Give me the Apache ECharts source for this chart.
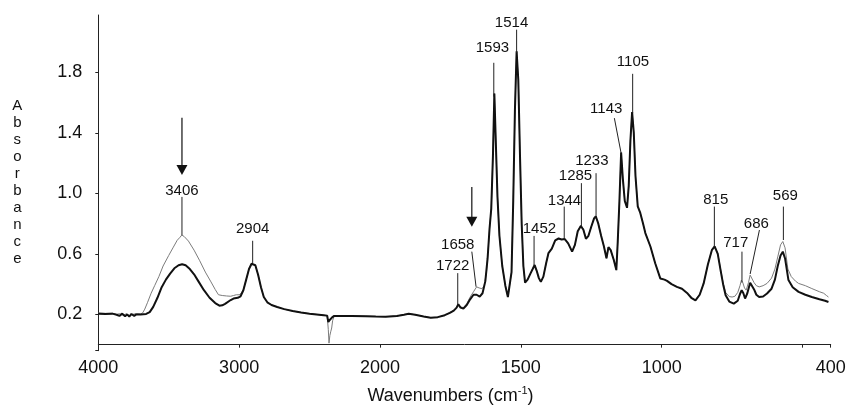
<!DOCTYPE html>
<html>
<head>
<meta charset="utf-8">
<script src="https://cdn.jsdelivr.net/npm/echarts/dist/echarts.min.js"></script>
<style>
html,body{margin:0;padding:0;background:#fff;}
#chart{width:846px;height:406px;}
</style>
</head>
<body>
<div id="chart"></div>
<script>
// ---------- DATA ----------
// x tick marks and labels (wavenumbers, cm-1)
var xTickMarks = [4000, 3000, 2000, 1500, 1000, 500, 400];
var xTickLabels = [4000, 3000, 2000, 1500, 1000, 400];
var yTickLabels = [0.2, 0.6, 1.0, 1.4, 1.8];
var yMin = -0.04, yMax = 2.18;

// thick black spectrum [wavenumber, absorbance]
var spectrumBlack = [
[4000,0.205],[3950,0.203],[3900,0.205],[3870,0.198],[3850,0.19],[3830,0.205],[3810,0.188],[3795,0.2],[3780,0.185],[3765,0.203],[3745,0.19],[3730,0.2],[3700,0.2],[3660,0.203],[3635,0.215],
[3610,0.25],[3580,0.31],[3550,0.38],[3520,0.43],[3490,0.47],[3460,0.505],[3430,0.525],[3405,0.532],[3380,0.525],[3350,0.5],[3320,0.465],[3290,0.42],[3250,0.36],[3210,0.31],[3170,0.275],[3140,0.258],[3120,0.26],
[3100,0.27],[3087,0.28],[3060,0.295],[3040,0.305],[3010,0.31],[2990,0.32],[2970,0.36],[2950,0.43],[2930,0.5],[2912,0.535],[2900,0.542],[2885,0.525],[2865,0.46],[2845,0.38],[2825,0.315],[2800,0.28],
[2770,0.262],[2730,0.249],[2680,0.235],[2620,0.222],[2560,0.212],[2500,0.205],[2450,0.2],[2400,0.195],[2375,0.192],[2367,0.15],[2362,0.138],[2355,0.165],[2348,0.16],[2340,0.18],[2325,0.19],
[2280,0.19],[2200,0.19],[2100,0.188],[2030,0.186],[1980,0.185],[1940,0.19],[1915,0.198],[1898,0.204],[1875,0.198],[1845,0.186],[1820,0.178],[1795,0.182],[1770,0.195],[1752,0.21],[1738,0.225],[1728,0.245],
[1722,0.267],[1714,0.245],[1704,0.238],[1692,0.262],[1680,0.3],[1668,0.33],[1657,0.33],[1646,0.318],[1636,0.34],[1626,0.42],[1618,0.57],[1611,0.77],[1605,0.9],[1599,1.25],[1594,1.66],[1589,1.35],
[1583,0.98],[1576,0.72],[1566,0.52],[1555,0.39],[1546,0.315],[1540,0.31],[1533,0.48],[1527,0.95],[1521,1.55],[1515,1.94],[1509,1.75],[1503,1.25],[1497,0.8],[1491,0.52],[1485,0.41],[1476,0.43],
[1466,0.47],[1458,0.5],[1451,0.527],[1444,0.49],[1436,0.44],[1429,0.415],[1420,0.45],[1410,0.54],[1402,0.605],[1390,0.635],[1378,0.69],[1366,0.702],[1355,0.695],[1344,0.698],[1332,0.67],[1318,0.615],
[1308,0.66],[1298,0.75],[1287,0.785],[1278,0.76],[1269,0.7],[1260,0.72],[1250,0.78],[1240,0.835],[1234,0.849],[1225,0.8],[1215,0.72],[1205,0.649],[1196,0.571],[1189,0.645],[1181,0.625],[1170,0.56],
[1161,0.493],[1156,0.68],[1150,0.95],[1144,1.27],[1138,1.1],[1131,0.95],[1123,0.905],[1117,1.05],[1111,1.35],[1105,1.538],[1099,1.4],[1093,1.115],[1085,0.915],[1076,0.871],[1066,0.8],[1058,0.738],
[1040,0.649],[1023,0.538],[1005,0.438],[990,0.43],[981,0.422],[965,0.4],[946,0.382],[928,0.37],[910,0.342],[895,0.31],[880,0.293],[865,0.33],[851,0.405],[836,0.53],[822,0.625],[812,0.65],
[801,0.6],[791,0.493],[782,0.4],[773,0.327],[760,0.285],[744,0.271],[730,0.29],[722,0.335],[716,0.36],[710,0.34],[704,0.305],[696,0.34],[686,0.41],[680,0.405],[672,0.365],[664,0.33],
[654,0.315],[640,0.318],[626,0.338],[610,0.37],[598,0.43],[588,0.52],[578,0.59],[570,0.615],[562,0.57],[550,0.427],[535,0.38],[514,0.349],[490,0.33],[467,0.315],[440,0.3],[420,0.29],[408,0.282]
];

// thin grey spectrum [wavenumber, absorbance]
var spectrumGrey = [
[4000,0.21],[3950,0.207],[3900,0.208],[3870,0.2],[3850,0.205],[3820,0.195],[3800,0.205],[3780,0.19],[3760,0.2],[3730,0.205],[3700,0.203],[3685,0.21],[3670,0.235],[3650,0.28],[3625,0.34],
[3600,0.39],[3570,0.45],[3540,0.52],[3500,0.59],[3470,0.64],[3440,0.69],[3420,0.71],[3407,0.725],[3390,0.715],[3360,0.685],[3320,0.625],[3280,0.555],[3240,0.48],[3200,0.415],[3170,0.365],[3147,0.33],
[3120,0.325],[3090,0.322],[3060,0.32],[3040,0.325],[3020,0.33],[3000,0.33],[2985,0.34],[2970,0.365],[2950,0.43],[2930,0.5],[2912,0.535],[2900,0.542],[2885,0.525],[2865,0.46],[2845,0.38],[2825,0.315],
[2800,0.28],[2770,0.262],[2730,0.249],[2680,0.235],[2620,0.222],[2560,0.212],[2500,0.205],[2450,0.2],[2400,0.195],[2375,0.19],[2367,0.1],[2362,0.01],[2356,0.06],[2350,0.085],[2343,0.11],[2336,0.16],
[2325,0.19],[2280,0.19],[2200,0.19],[2100,0.188],[2030,0.186],[1980,0.185],[1940,0.19],[1915,0.198],[1898,0.204],[1875,0.198],[1845,0.186],[1820,0.178],[1795,0.182],[1770,0.195],[1752,0.212],[1738,0.228],
[1728,0.245],[1722,0.267],[1714,0.25],[1704,0.245],[1692,0.27],[1680,0.315],[1668,0.35],[1657,0.382],[1648,0.375],[1638,0.37],[1630,0.39],[1622,0.48],[1617,0.6],[1611,0.77],[1605,0.9],[1599,1.25],
[1594,1.66],[1589,1.35],[1583,0.98],[1576,0.72],[1566,0.52],[1555,0.39],[1546,0.315],[1540,0.31],[1533,0.48],[1527,0.95],[1521,1.55],[1515,1.94],[1509,1.75],[1503,1.25],[1497,0.8],[1491,0.52],
[1485,0.41],[1476,0.43],[1466,0.47],[1458,0.5],[1451,0.527],[1444,0.49],[1436,0.44],[1429,0.415],[1420,0.45],[1410,0.54],[1402,0.605],[1390,0.635],[1378,0.69],[1366,0.702],[1355,0.695],[1344,0.698],
[1332,0.67],[1318,0.615],[1308,0.66],[1298,0.75],[1287,0.79],[1278,0.765],[1269,0.705],[1260,0.72],[1250,0.78],[1240,0.835],[1234,0.849],[1225,0.8],[1215,0.72],[1205,0.649],[1196,0.571],[1189,0.645],
[1181,0.625],[1170,0.56],[1161,0.493],[1156,0.68],[1150,0.95],[1144,1.27],[1138,1.1],[1131,0.95],[1123,0.905],[1117,1.05],[1111,1.35],[1105,1.538],[1099,1.4],[1093,1.115],[1085,0.915],[1076,0.871],
[1066,0.8],[1058,0.738],[1040,0.649],[1023,0.538],[1005,0.438],[990,0.43],[981,0.422],[965,0.4],[946,0.382],[928,0.37],[910,0.342],[895,0.31],[880,0.295],[865,0.335],[851,0.405],[836,0.53],
[822,0.625],[812,0.65],[801,0.605],[791,0.5],[782,0.41],[773,0.345],[760,0.318],[750,0.315],[740,0.32],[730,0.345],[722,0.39],[717,0.427],[712,0.41],[706,0.375],[700,0.36],[692,0.41],
[686,0.46],[680,0.45],[672,0.41],[664,0.39],[654,0.382],[640,0.39],[626,0.405],[610,0.44],[598,0.5],[588,0.58],[578,0.66],[570,0.682],[562,0.64],[552,0.5],[540,0.45],[525,0.42],
[514,0.405],[490,0.39],[467,0.371],[440,0.35],[425,0.34],[415,0.325],[408,0.315]
];

// peak annotations
var peakNames   = ['3406','2904','1722','1658','1593','1514','1452','1344','1285','1233','1143','1105','815','717','686','569'];
var peakLabelWn = [3406, 2904, 1742, 1724, 1601, 1533, 1434, 1345, 1306, 1248, 1197, 1102, 808, 737, 664, 561];
var peakLabelAb = [1.019, 0.765, 0.52, 0.659, 1.962, 2.131, 0.763, 0.95, 1.116, 1.217, 1.562, 1.873, 0.957, 0.674, 0.798, 0.983];
var leaderTopWn = [3406, 2904, 1724, 1674, 1596, 1515, 1453, 1346, 1285, 1233, 1168, 1103, 813, 715, 653, 568];
var leaderTopAb = [0.977, 0.687, 0.473, 0.615, 1.864, 2.083, 0.719, 0.913, 1.068, 1.134, 1.498, 1.791, 0.913, 0.615, 0.758, 0.913];
var leaderBotWn = [3406, 2904, 1724, 1659, 1596, 1515, 1453, 1346, 1285, 1233, 1144, 1103, 813, 715, 686, 568];
var leaderBotAb = [0.725, 0.54, 0.268, 0.383, 1.64, 1.93, 0.526, 0.697, 0.78, 0.846, 1.266, 1.531, 0.648, 0.41, 0.467, 0.692];

// arrows [wavenumber, start absorbance, tip absorbance]
var arrowWn    = [3406, 1674];
var arrowTopAb = [1.50, 1.043];
var arrowTipAb = [1.122, 0.78];

// ---------- AXIS TRANSFORM (split scale: 4000-2000 compressed 2x) ----------
function toT(w){ return w >= 2000 ? (4000 - w) / 2 : 1000 + (2000 - w); }
function fromT(t){ return t <= 1000 ? 4000 - 2 * t : 2000 - (t - 1000); }

var FONT = 'Liberation Sans, Arial, sans-serif';

var chart = echarts.init(document.getElementById('chart'), null, {renderer:'canvas'});

var peakData = peakNames.map(function(n, i){
  return [toT(peakLabelWn[i]), peakLabelAb[i], toT(leaderTopWn[i]), leaderTopAb[i], toT(leaderBotWn[i]), leaderBotAb[i]];
});
var arrowData = arrowWn.map(function(w, i){ return [toT(w), arrowTopAb[i], arrowTipAb[i]]; });

var option = {
  animation: false,
  backgroundColor: '#fff',
  grid: {left: 98.3, right: 15.3, top: 15, bottom: 55.3, containLabel: false, outerBoundsMode: 'none'},
  xAxis: {
    type: 'value', min: 0, max: toT(400),
    splitLine: {show: false},
    axisLine: {lineStyle: {color: '#222', width: 1}},
    axisTick: {show: true, length: 3, inside: false, lineStyle: {color: '#222'}, customValues: xTickMarks.map(toT)},
    axisLabel: {customValues: xTickLabels.map(toT), formatter: function(v){ return String(Math.round(fromT(v))); },
      fontSize: 18, color: '#111', fontFamily: FONT, margin: 8},
    name: 'Wavenumbers (cm{sup|-1})',
    nameLocation: 'middle', nameGap: 35,
    nameTextStyle: {fontSize: 18, color: '#111', fontFamily: FONT, padding: [0, 28, 0, 0],
      rich: {sup: {fontSize: 11, fontFamily: FONT, color: '#111', padding: [0, 0, 9, 0]}}}
  },
  yAxis: {
    type: 'value', min: yMin, max: yMax,
    splitLine: {show: false},
    axisLine: {show: true, lineStyle: {color: '#222', width: 1}},
    axisTick: {show: true, length: 3, lineStyle: {color: '#222'}, customValues: [yMin].concat(yTickLabels)},
    axisLabel: {customValues: yTickLabels, formatter: function(v){ return v.toFixed(1); },
      fontSize: 18, color: '#111', fontFamily: FONT, margin: 16},
    name: 'A\nb\ns\no\nr\nb\na\nn\nc\ne',
    nameLocation: 'middle', nameRotate: 0, nameGap: 81,
    nameTextStyle: {fontSize: 15, lineHeight: 17, color: '#111', fontFamily: FONT, align: 'center', verticalAlign: 'middle', padding: [0, 0, 19, 0]}
  },
  series: [
    {
      type: 'line', name: 'grey', showSymbol: false, symbol: 'none',
      data: spectrumGrey.map(function(p){ return [toT(p[0]), p[1]]; }),
      lineStyle: {color: '#7c7c7c', width: 1}, z: 2
    },
    {
      type: 'line', name: 'black', showSymbol: false, symbol: 'none',
      data: spectrumBlack.map(function(p){ return [toT(p[0]), p[1]]; }),
      lineStyle: {color: '#111', width: 2}, z: 3
    },
    {
      type: 'custom', name: 'peaks', z: 4,
      data: peakData,
      encode: {x: [0, 2, 4], y: [1, 3, 5]},
      renderItem: function(params, api){
        var i = params.dataIndex;
        var lab = api.coord([api.value(0), api.value(1)]);
        var top = api.coord([api.value(2), api.value(3)]);
        var bot = api.coord([api.value(4), api.value(5)]);
        return {type: 'group', children: [
          {type: 'line', shape: {x1: top[0], y1: top[1], x2: bot[0], y2: bot[1]}, style: {stroke: '#222', lineWidth: 1}},
          {type: 'text', x: lab[0], y: lab[1], style: {text: peakNames[i], fill: '#111', fontSize: 15, fontFamily: FONT, align: 'center', verticalAlign: 'middle'}}
        ]};
      }
    },
    {
      type: 'custom', name: 'arrows', z: 4,
      data: arrowData,
      encode: {x: 0, y: [1, 2]},
      renderItem: function(params, api){
        var top = api.coord([api.value(0), api.value(1)]);
        var tip = api.coord([api.value(0), api.value(2)]);
        var hh = 10, hw = 5.5;
        return {type: 'group', children: [
          {type: 'line', shape: {x1: top[0], y1: top[1], x2: tip[0], y2: tip[1] - hh + 1}, style: {stroke: '#111', lineWidth: 1.2}},
          {type: 'polygon', shape: {points: [[tip[0] - hw, tip[1] - hh], [tip[0] + hw, tip[1] - hh], [tip[0], tip[1]]]}, style: {fill: '#111'}}
        ]};
      }
    }
  ]
};
chart.setOption(option);
</script>
</body>
</html>
